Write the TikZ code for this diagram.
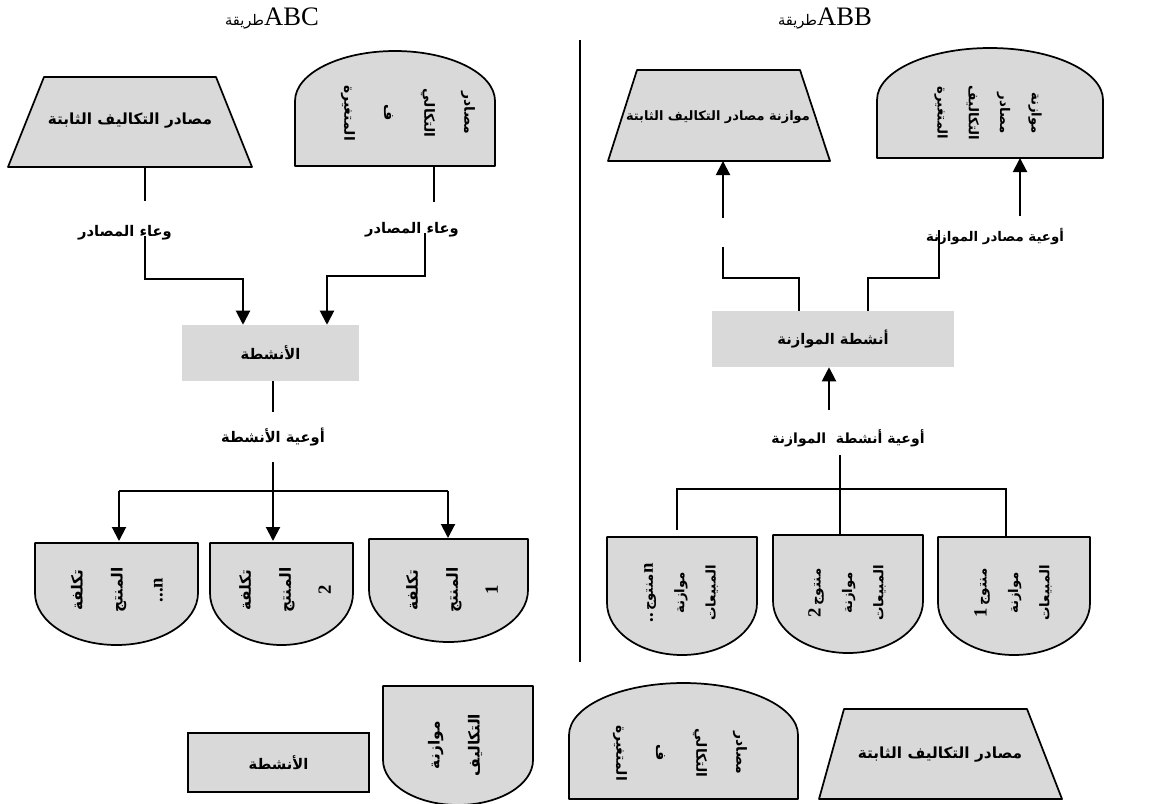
\documentclass[tikz,border=0pt]{standalone}
\usepackage{fontspec}
\setmainfont{Liberation Serif}
\newfontfamily\arabicfont[Script=Arabic]{DejaVu Sans}
\TeXXeTstate=1
\usetikzlibrary{arrows.meta}
\definecolor{shapegray}{HTML}{D9D9D9}
% one line of right-to-left Arabic text
\newcommand{\AR}[1]{{\arabicfont\beginR #1\endR}}
% bold serif figures inside the rotated captions
\newcommand{\fig}[1]{{\rmfamily\bfseries\fontsize{14}{14}\selectfont #1}}
% trapezoid: top-left x, top-right x, top y, bottom-left x, bottom-right x, bottom y
\newcommand{\trapshape}[6]{%
  \draw[shp] (#4,#6) -- (#1,#3) -- (#2,#3) -- (#5,#6) -- cycle;}
% dome with flat base: left x, right x, peak y, shoulder y, base y
\newcommand{\domeshape}[5]{%
  \pgfmathsetmacro\shpmid{(#1+#2)/2}%
  \pgfmathsetmacro\shpcx{0.552*(#2-#1)/2}%
  \pgfmathsetmacro\shpcy{0.552*(#4-#3)}%
  \draw[shp] (#1,#5) -- (#1,#4) .. controls (#1,#4-\shpcy) and (\shpmid-\shpcx,#3) .. (\shpmid,#3)
    .. controls (\shpmid+\shpcx,#3) and (#2,#4-\shpcy) .. (#2,#4) -- (#2,#5) -- cycle;}
% bowl with flat top: left x, right x, top y, shoulder y, bottom y
\newcommand{\bowlshape}[5]{%
  \pgfmathsetmacro\shpmid{(#1+#2)/2}%
  \pgfmathsetmacro\shpcx{0.552*(#2-#1)/2}%
  \pgfmathsetmacro\shpcy{0.552*(#5-#4)}%
  \draw[shp] (#1,#3) -- (#2,#3) -- (#2,#4) .. controls (#2,#4+\shpcy) and (\shpmid+\shpcx,#5) .. (\shpmid,#5)
    .. controls (\shpmid-\shpcx,#5) and (#1,#4+\shpcy) .. (#1,#4) -- cycle;}
\begin{document}
\begin{tikzpicture}[x=0.75pt,y=-0.75pt,
  shp/.style={draw=black, line width=1.3pt, fill=shapegray, line join=round},
  link/.style={line width=1.5pt},
  thinlink/.style={line width=1pt},
  arrowlink/.style={line width=1.5pt, -{Triangle[width=10.5pt,length=10.5pt]}},
  htext/.style={font=\arabicfont\bfseries\fontsize{11.5}{13}\selectfont, inner sep=1pt},
  lbl/.style={font=\arabicfont\bfseries\fontsize{11}{13}\selectfont, inner sep=1pt},
  vdome/.style={font=\arabicfont\bfseries\fontsize{10.5}{30}\selectfont, align=center, inner sep=0pt},
  vbowl/.style={font=\arabicfont\bfseries\fontsize{11.5}{30}\selectfont, align=center, inner sep=0pt},
  vtextB/.style={font=\arabicfont\bfseries\fontsize{10}{23.5}\selectfont, align=center, inner sep=0pt},
  actbox/.style={fill=shapegray, inner sep=0pt, font=\arabicfont\bfseries\fontsize{11}{13}\selectfont},
  legbox/.style={draw=black, line width=1.3pt, fill=shapegray, inner sep=0pt, font=\arabicfont\bfseries\fontsize{11}{13}\selectfont},
  title/.style={anchor=base, inner sep=0pt}]
\fill[white] (0,0) rectangle (1151,803);
\useasboundingbox (0,0) rectangle (1151,803);
\clip (0,0) rectangle (1151,803);

% headings
\node[title] (titleABC) at (272,25) {{\arabicfont\fontsize{11}{12}\selectfont طريقة}{\fontsize{20}{24}\selectfont ABC}};
\node[title] (titleABB) at (825,26) {{\arabicfont\fontsize{11}{12}\selectfont طريقة}{\fontsize{20}{24}\selectfont ABB}};

% separator between the two methods
\coordinate (sepTop) at (580,40);
\coordinate (sepBot) at (580,662);
\draw[line width=1pt] (sepTop) -- (sepBot);

% ---------------- ABC ----------------
\trapshape{44}{216}{77}{8}{252}{167}
\node[htext] (trapA) at (130,121) {\AR{مصادر التكاليف الثابتة}};
\domeshape{295}{495}{51}{101}{166}
\node[vdome, rotate=-90] (domeA) at (408,113) {\AR{مصادر}\\\AR{التكالي}\\\AR{ف}\\\AR{المتغيرة}};

\node[actbox, minimum width=132.75pt, minimum height=42pt] (actA) at (270.5,353) {\AR{الأنشطة}};
\node[lbl] (lblA1) at (125,233) {\AR{وعاء المصادر}};
\node[lbl] (lblA2) at (412,230) {\AR{وعاء المصادر}};
\node[lbl] (lblA3) at (273,437) {\AR{أوعية الأنشطة}};

\draw[thinlink] (145,167) -- (145,201);
\draw[arrowlink] (145,236) |- (243,279) -- (actA.north -| 243,0);
\draw[thinlink] (434,166) -- (434,202);
\draw[arrowlink] (425,233) |- (327,276) -- (actA.north -| 327,0);
\draw[link] (actA.south -| 273,0) -- (273,412);
\draw[arrowlink] (273,462) -- (273,541);
\draw[link] (119,491) -- (448,491);
\draw[arrowlink] (119,491) -- (119,541);
\draw[arrowlink] (448,491) -- (448,538);

\bowlshape{35}{198}{543}{593}{645}
\bowlshape{210}{353}{543}{593}{645}
\bowlshape{369}{528}{539}{590}{642}
\node[vbowl, rotate=90] (costN) at (117,590) {\AR{تكلفة}\\\AR{المنتج}\\\fig{...n}};
\node[vbowl, rotate=90] (cost2) at (285,590) {\AR{تكلفة}\\\AR{المنتج}\\\fig{2}};
\node[vbowl, rotate=90] (cost1) at (452,590) {\AR{تكلفة}\\\AR{المنتج}\\\fig{1}};

% ---------------- ABB ----------------
\trapshape{637}{800}{70}{608}{830}{161}
\node[htext, font=\arabicfont\bfseries\fontsize{9.7}{12}\selectfont] (trapB) at (718,117) {\AR{موازنة مصادر التكاليف الثابتة}};
\domeshape{877}{1103}{48}{100}{158}
\node[vtextB, rotate=-90] (domeB) at (988,113) {\AR{موازنة}\\\AR{مصادر}\\\AR{التكاليف}\\\AR{المتغيرة}};

\node[actbox, minimum width=181.5pt, minimum height=42pt] (actB) at (833,339) {\AR{أنشطة الموازنة}};
\node[lbl, font=\arabicfont\bfseries\fontsize{10}{12}\selectfont] (lblB1) at (995,237) {\AR{أوعية مصادر الموازنة}};
\node[lbl, font=\arabicfont\bfseries\fontsize{10.5}{12}\selectfont] (lblB2) at (848,438) {\AR{أوعية أنشطة\ \ الموازنة}};

\draw[arrowlink] (723,218) -- (723,161);
\draw[link] (723,247) |- (799,278) -- (actB.north -| 799,0);
\draw[link] (actB.north -| 868,0) |- (939,278) -- (939,230);
\draw[arrowlink] (1020,216) -- (1020,158);
\draw[arrowlink] (829,410) -- (actB.south -| 829,0);
\draw[link] (840,455) -- (840,537);
\draw[link] (677,530) |- (1006,489) -- (1006,537);

\bowlshape{607}{757}{537}{603}{655}
\bowlshape{773}{923}{535}{601}{653}
\bowlshape{938}{1090}{537}{603}{655}
\node[vtextB, rotate=90] (salesN) at (681,593) {\fig{..}\,منتوج\fig{n}\\\AR{موازنة}\\\AR{المبيعات}};
\node[vtextB, rotate=90] (sales2) at (847,593) {\fig{2}\,منتوج\\\AR{موازنة}\\\AR{المبيعات}};
\node[vtextB, rotate=90] (sales1) at (1013,593) {\fig{1}\,منتوج\\\AR{موازنة}\\\AR{المبيعات}};

% ---------------- key ----------------
\node[legbox, minimum width=135.75pt, minimum height=44.25pt] (keyAct) at (278.5,762.5) {\AR{الأنشطة}};
\bowlshape{383}{533}{686}{760}{805}
\node[vbowl, rotate=90] (keyBudget) at (455,745) {\AR{موازنة}\\\AR{التكاليف}};
\domeshape{569}{798}{683}{735}{799}
\node[vdome, rotate=-90] (keyVar) at (680,753) {\AR{مصادر}\\\AR{التكالي}\\\AR{ف}\\\AR{المتغيرة}};
\trapshape{844}{1027}{709}{819}{1062}{799}
\node[htext] (keyFixed) at (940,755) {\AR{مصادر التكاليف الثابتة}};
\end{tikzpicture}
\end{document}
